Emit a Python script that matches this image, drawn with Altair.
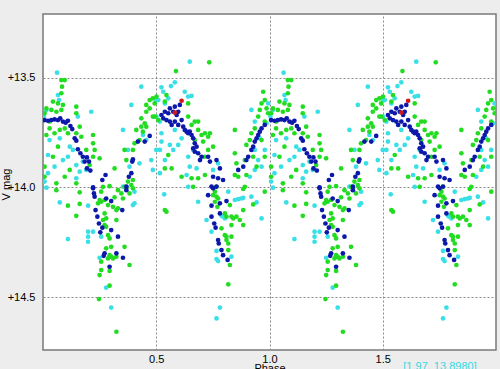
import altair as alt
import pandas as pd

# ---- data (one phase cycle, shown twice) ----
cyan_phase = [0.062,0.066,0.071,0.434,0.213,0.390,0.353,0.015,0.004,0.154,0.500,0.074,0.029,0.118,0.132,0.110,0.022,0.088,0.051,0.147,0.176,0.162,0.147,0.022,0.191,0.375,0.382,0.426,0.478,0.485,0.500,0.441,0.456,0.353,0.007,
              0.648,0.582,0.523,0.565,0.531,0.626,0.641,0.656,0.553,0.538,0.509,0.501,0.516,0.523,0.516,0.523,0.560,0.575,0.538,0.597,0.612,0.582,0.641,0.663,0.648,0.634,0.678,0.773,0.516,0.920,0.935,0.957,0.935,0.950,0.965,0.979,0.935,0.913,0.751,0.994,0.987,
              0.015,0.074,0.199,0.110,0.199,0.199,0.199,0.221,0.257,0.250,0.279,0.301,0.397,0.404,0.404,0.368,
              0.641,0.535,0.685,0.818,0.847,0.862,0.876,0.884,0.920,0.943,0.965,0.722,0.744,0.795,0.803,0.788,0.766,0.766,0.773,0.832,0.781,0.766]
cyan_mag = [13.477,13.579,13.602,13.541,13.655,13.624,13.738,13.647,13.677,13.677,13.602,13.776,13.784,13.814,13.829,13.860,13.852,13.875,13.905,13.898,13.882,13.928,13.958,13.935,13.920,13.829,13.905,13.890,13.875,13.920,13.829,13.761,13.784,13.996,13.973,
            13.427,13.521,13.544,13.538,13.564,13.564,13.586,13.583,13.594,13.617,13.602,13.677,13.700,13.753,13.829,13.791,13.806,13.829,13.875,13.806,13.776,13.738,13.860,13.829,13.905,13.943,13.913,13.890,13.935,13.647,13.700,13.776,13.829,13.875,13.905,13.829,13.920,13.951,13.920,13.617,13.708,
            14.001,14.068,14.083,14.235,14.201,14.224,14.247,14.201,14.224,14.320,14.456,14.547,14.080,14.072,14.019,13.997,
            13.997,14.031,14.065,14.019,14.057,14.053,14.050,14.047,14.042,14.068,14.141,14.148,14.201,14.133,14.141,14.129,14.289,14.326,14.335,14.315,14.547,14.596]

green_phase = [0.081,0.096,0.084,0.081,0.044,0.066,0.088,0.015,0.037,0.059,0.081,0.007,0.147,0.147,0.162,0.147,0.169,0.221,0.221,0.228,0.221,0.250,0.206,0.316,0.147,0.096,0.029,0.029,0.051,0.074,0.096,0.110,0.015,0.066,0.044,0.007,0.007,0.059,0.360,0.368,0.397,0.404,0.426,0.441,0.449,0.434,0.456,0.471,0.485,0.471,0.493,0.456,0.485,0.456,0.412,0.434,0.375,0.390,0.368,0.397,0.118,0.191,
               0.734,0.587,0.501,0.545,0.538,0.641,0.656,0.670,0.685,0.685,0.700,0.715,0.729,0.737,0.670,0.707,0.751,0.729,0.715,0.553,0.538,0.568,0.612,0.656,0.685,0.715,0.847,0.847,0.854,0.847,0.862,0.898,0.972,0.979,0.965,0.987,0.957,0.994,0.950,0.979,0.935,0.920,0.913,0.898,0.965,0.928,0.979,0.891,0.943,0.494,0.509,0.641,
               0.059,0.162,0.110,0.162,0.147,0.257,0.265,0.250,0.257,0.272,0.243,0.287,0.316,0.331,0.346,0.353,0.382,0.360,0.309,0.324,0.331,0.272,0.279,0.265,0.272,0.324,0.279,0.287,0.294,0.279,0.301,0.360,0.294,0.301,0.309,0.324,0.287,0.257,0.257,0.294,0.250,0.382,0.294,0.247,0.324,0.397,0.294,
               0.663,0.766,0.759,0.751,0.766,0.773,0.759,0.770,0.891,0.884,0.979,0.928,0.884,0.825,0.803,0.810,0.832,0.840,0.854,0.869,0.884,0.832,0.788,0.803,0.810,0.832,0.810,0.818,0.818,0.825,0.818,0.545,0.538]
green_mag = [13.511,13.511,13.541,13.571,13.609,13.617,13.624,13.640,13.647,13.655,13.647,13.662,13.632,13.662,13.723,13.753,13.769,13.761,13.799,13.829,13.860,13.867,13.898,13.913,13.981,13.951,13.700,13.731,13.753,13.738,13.731,13.753,13.761,13.814,13.860,13.905,13.951,13.981,13.829,13.875,13.829,13.799,13.784,13.746,13.708,13.685,13.655,13.640,13.594,13.602,13.617,13.624,13.677,13.723,13.738,13.723,13.973,13.989,14.004,13.966,13.920,13.829,
             13.430,13.470,13.586,13.579,13.609,13.617,13.715,13.700,13.700,13.738,13.761,13.753,13.769,13.753,13.784,13.791,13.814,13.829,13.860,13.852,13.913,13.913,13.951,13.958,13.958,13.943,13.738,13.844,13.890,13.943,13.951,13.943,13.564,13.602,13.617,13.640,13.647,13.662,13.677,13.700,13.731,13.753,13.784,13.806,13.784,13.860,13.860,13.875,13.905,13.677,13.693,13.677,
             14.012,14.022,14.083,14.075,14.129,14.019,13.997,14.057,14.065,14.057,14.072,14.080,14.045,14.012,14.027,14.050,14.027,13.997,14.088,14.103,14.095,14.118,14.141,14.148,14.171,14.148,14.179,14.217,14.232,14.277,14.270,14.270,14.308,14.315,14.323,14.315,14.323,14.338,14.376,14.380,14.399,14.353,14.447,14.508,14.657,14.004,13.994,
             13.997,13.997,14.019,14.035,14.042,14.050,14.065,14.088,13.997,14.007,14.019,14.077,14.103,14.080,14.118,14.133,14.133,14.141,14.133,14.148,14.171,14.171,14.186,14.217,14.224,14.224,14.239,14.255,14.285,14.353,14.441,14.110,14.103]

blue_phase = [0.007,0.022,0.037,0.051,0.066,0.076,0.088,0.100,0.110,0.121,0.129,0.140,0.147,0.154,0.165,0.176,0.194,0.184,0.203,0.194,0.209,0.262,0.276,0.221,0.379,0.368,0.397,0.394,0.419,0.449,0.471,0.390,
              0.560,0.582,0.604,0.597,0.590,0.575,0.553,0.538,0.523,0.531,0.545,0.560,0.568,0.582,0.597,0.612,0.619,0.626,0.634,0.641,0.648,0.656,0.663,0.670,0.678,0.663,0.670,0.685,0.700,0.693,0.729,0.737,0.766,0.781,0.751,0.773,0.795,0.744,0.766,0.862,0.884,0.898,0.906,0.920,0.928,0.935,0.943,0.950,0.957,0.965,0.979,
              0.221,0.225,0.228,0.279,0.301,0.232,0.240,0.247,0.262,0.301,0.331,0.253,0.272,0.268,0.324,0.353,0.294,0.368,0.350,
              0.751,0.729,0.744,0.781,0.810,0.744,0.756,0.762,0.773,0.776,0.788,0.795,0.815,0.781]
blue_mag = [13.693,13.696,13.693,13.690,13.693,13.685,13.700,13.705,13.696,13.720,13.734,13.776,13.787,13.826,13.844,13.860,13.863,13.882,13.882,13.913,13.923,13.966,13.943,13.999,13.951,13.996,13.872,13.882,13.791,13.791,13.765,13.935,
            13.640,13.632,13.624,13.655,13.670,13.655,13.662,13.655,13.670,13.685,13.693,13.700,13.715,13.700,13.715,13.693,13.723,13.738,13.746,13.753,13.746,13.761,13.776,13.799,13.814,13.822,13.837,13.844,13.860,13.875,13.860,13.882,13.875,13.913,13.951,13.958,13.966,13.996,13.996,13.920,13.905,13.875,13.860,13.829,13.814,13.791,13.776,13.761,13.746,13.731,13.715,
            14.004,14.027,14.042,14.050,14.062,14.103,14.133,14.164,14.183,14.194,14.224,14.204,14.300,14.311,14.300,14.320,14.361,14.012,14.103,
            14.004,14.035,14.083,14.072,14.062,14.133,14.164,14.183,14.239,14.255,14.285,14.308,14.330,14.118]

red_phase = [0.612, 0.582]
red_mag = [13.605, 13.659]

x_ticks = [0.5, 1.0, 1.5]
y_ticks = [13.5, 14.0, 14.5]
cursor_text = "[1.97, 13.8980]"

series = [("cyan", cyan_phase, cyan_mag), ("green", green_phase, green_mag),
          ("blue", blue_phase, blue_mag), ("red", red_phase, red_mag)]
rows = []
for name, ph, mg in series:
    for cycle in (0, 1):
        for p, m in zip(ph, mg):
            rows.append({"set": name, "phase": p + cycle, "mag": m})
df = pd.DataFrame(rows)

font = "Liberation Sans"

points = alt.Chart(df).mark_circle(size=22, opacity=1, clip=True).encode(
    x=alt.X("phase:Q",
            scale=alt.Scale(domain=[0, 2], nice=False, zero=False),
            axis=alt.Axis(values=x_ticks, format=".1f", title="Phase", ticks=False, domain=False,
                          grid=True, gridDash=[2, 2], gridColor="#8a8a8a", gridWidth=1,
                          labelPadding=3, labelFont=font, labelFontSize=11, labelColor="#000",
                          titleFont=font, titleFontSize=11, titleFontWeight="normal", titleColor="#000",
                          titleY=12, titleBaseline="top")),
    y=alt.Y("mag:Q",
            scale=alt.Scale(domain=[13.21, 14.74], reverse=True, nice=False, zero=False),
            axis=alt.Axis(values=y_ticks, labelExpr="'+' + format(datum.value, '.1f')", title="V mag",
                          ticks=False, domain=False, grid=True, gridDash=[2, 2], gridColor="#8a8a8a",
                          gridWidth=1, labelPadding=8, labelFont=font, labelFontSize=11, labelColor="#000",
                          titleFont=font, titleFontSize=11, titleFontWeight="normal", titleColor="#000",
                          titleX=-37, titleY=170, titleAngle=270, titleAlign="center",
                          titleBaseline="middle")),
    color=alt.Color("set:N",
                    scale=alt.Scale(domain=["cyan", "green", "blue", "red"],
                                    range=["#38e0e6", "#22dc22", "#0c18aa", "#d01818"]),
                    legend=None),
)

annot = alt.Chart(pd.DataFrame({"t": [cursor_text]})).mark_text(
    align="center", baseline="top", color="#38d8e0", font=font, fontSize=11
).encode(text="t:N", x=alt.value(397), y=alt.value(347))

chart = alt.layer(points, annot).properties(
    width=453, height=336, autosize="none",
    padding={"left": 43, "top": 14, "right": 4, "bottom": 19},
    background="#ededed",
).configure_view(fill="white", stroke="#7a7a7a", strokeWidth=1.5)

chart.save("out.html", embed_options={"renderer": "svg", "actions": False})
